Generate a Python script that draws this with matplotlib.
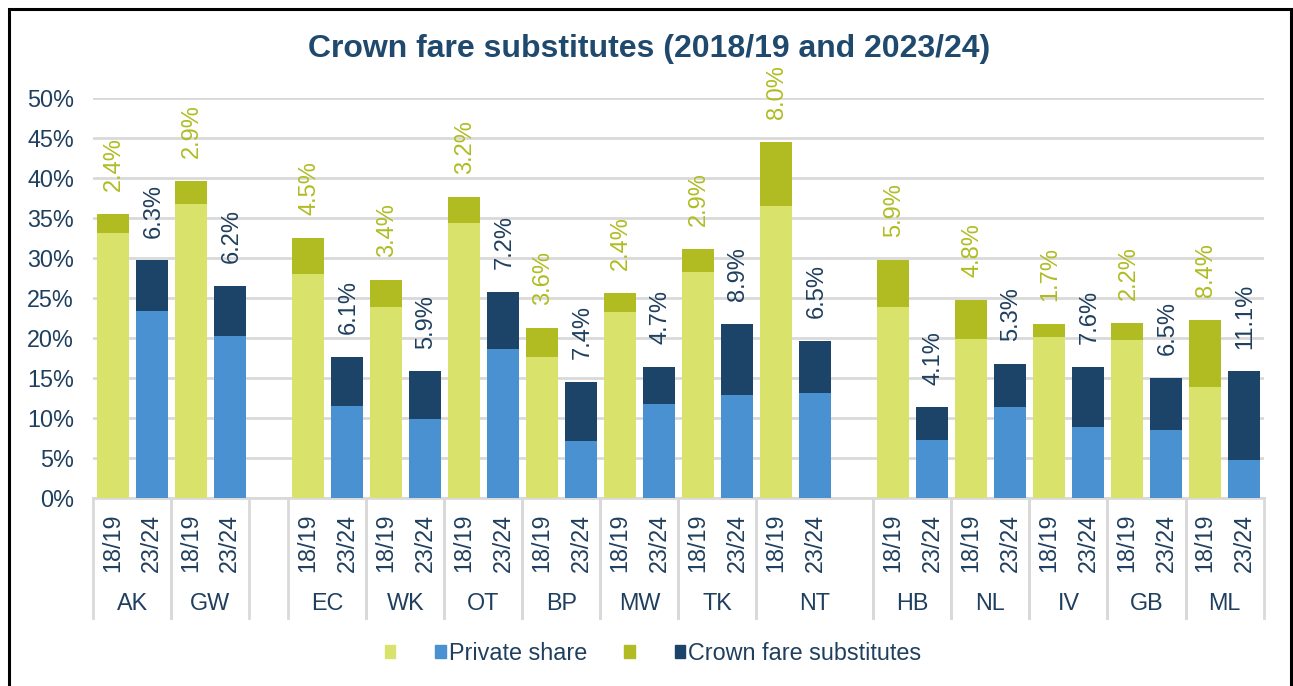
import matplotlib
matplotlib.use('Agg')
from matplotlib import pyplot as plt
from matplotlib.patches import Patch, Rectangle
from matplotlib.ticker import MultipleLocator, FuncFormatter

plt.rcParams['font.family'] = ['Liberation Sans', 'DejaVu Sans']

regions = ['AK', 'GW', 'EC', 'WK', 'OT', 'BP', 'MW', 'TK', 'NT', 'HB', 'NL', 'IV', 'GB', 'ML']
years = ['18/19', '23/24']
private_1819 = [33.1, 36.8, 28.0, 23.9, 34.4, 17.6, 23.2, 28.2, 36.5, 23.9, 19.9, 20.1, 19.7, 13.9]
crown_1819 = [2.4, 2.9, 4.5, 3.4, 3.2, 3.6, 2.4, 2.9, 8.0, 5.9, 4.8, 1.7, 2.2, 8.4]
private_2324 = [23.4, 20.3, 11.5, 9.9, 18.6, 7.1, 11.7, 12.8, 13.1, 7.2, 11.4, 8.8, 8.5, 4.7]
crown_2324 = [6.3, 6.2, 6.1, 5.9, 7.2, 7.4, 4.7, 8.9, 6.5, 4.1, 5.3, 7.6, 6.5, 11.1]

c_light = '#D9E36B'
c_olive = '#B0BC22'
c_blue = '#4A91D2'
c_navy = '#1B4468'
c_text = '#1F3F5F'
c_grid = '#D9D9D9'
fs = 16.8

fig = plt.figure(figsize=(12.93, 6.86), dpi=100)
ax = fig.add_axes([0.0722, 0.2745, 0.905, 0.5822])

# slot index of each 18/19 bar: blank slot after GW and after NT
slots = [2 * i + (1 if i >= 2 else 0) + (1 if i >= 9 else 0) for i in range(len(regions))]
x1 = slots
x2 = [s + 1 for s in slots]
w = 0.81

ax.bar(x1, private_1819, width=w, color=c_light, zorder=3)
ax.bar(x1, crown_1819, width=w, bottom=private_1819, color=c_olive, zorder=3)
ax.bar(x2, private_2324, width=w, color=c_blue, zorder=3)
ax.bar(x2, crown_2324, width=w, bottom=private_2324, color=c_navy, zorder=3)

# value labels above the bars
for i in range(len(regions)):
    t1 = private_1819[i] + crown_1819[i]
    t2 = private_2324[i] + crown_2324[i]
    ax.annotate('%.1f%%' % crown_1819[i], (x1[i], t1), xytext=(1, 16.5), textcoords='offset points',
                rotation=90, ha='center', va='bottom', color=c_olive, fontsize=17, annotation_clip=False)
    ax.annotate('%.1f%%' % crown_2324[i], (x2[i], t2), xytext=(1, 16.5), textcoords='offset points',
                rotation=90, ha='center', va='bottom', color=c_text, fontsize=17, annotation_clip=False)

ax.set_xlim(-0.5, 29.5)
ax.set_ylim(0, 50)
ax.yaxis.set_major_locator(MultipleLocator(5))
ax.yaxis.set_major_formatter(FuncFormatter(lambda v, p: '%d%%' % v))
ax.tick_params(axis='y', length=0, pad=14, labelsize=fs, labelcolor=c_text)
ax.set_xticks([])
ax.grid(axis='y', color=c_grid, linewidth=2, zorder=0)
for s in ['left', 'right', 'top']:
    ax.spines[s].set_visible(False)
ax.spines['bottom'].set_color(c_grid)
ax.spines['bottom'].set_linewidth(2)

# two-level category axis
tr = ax.get_xaxis_transform()
for i in range(len(regions)):
    ax.text(x1[i], -0.113, years[0], transform=tr, rotation=90, ha='center', va='center',
            fontsize=fs, color=c_text)
    ax.text(x2[i], -0.113, years[1], transform=tr, rotation=90, ha='center', va='center',
            fontsize=fs, color=c_text)
    left = x1[i] - 0.5
    right = x2[i] + 0.5 + (1 if regions[i] == 'NT' else 0)
    ax.text((left + right) / 2, -0.264, regions[i], transform=tr, ha='center', va='center',
            fontsize=fs, color=c_text)
    for b in (left, right):
        ax.plot([b, b], [0, -0.301], transform=tr, color=c_grid, linewidth=2, clip_on=False)

fig.text(0.502, 0.929, 'Crown fare substitutes (2018/19 and 2023/24)', ha='center', va='center',
         fontsize=23, fontweight='bold', color='#1F4A6E')

handles = [Patch(color=c_light), Patch(color=c_blue), Patch(color=c_olive), Patch(color=c_navy)]
fig.legend(handles, ['', 'Private share', '', 'Crown fare substitutes'], ncol=4, loc='center',
           bbox_to_anchor=(0.505, 0.048), frameon=False, fontsize=fs, labelcolor=c_text,
           handlelength=0.45, handleheight=0.45, handletextpad=0.12, columnspacing=1.6)

fig.add_artist(Rectangle((0.0068, -0.02), 0.9915, 1.007, transform=fig.transFigure,
                         fill=False, edgecolor='black', linewidth=2.2))

plt.savefig('out.png')
